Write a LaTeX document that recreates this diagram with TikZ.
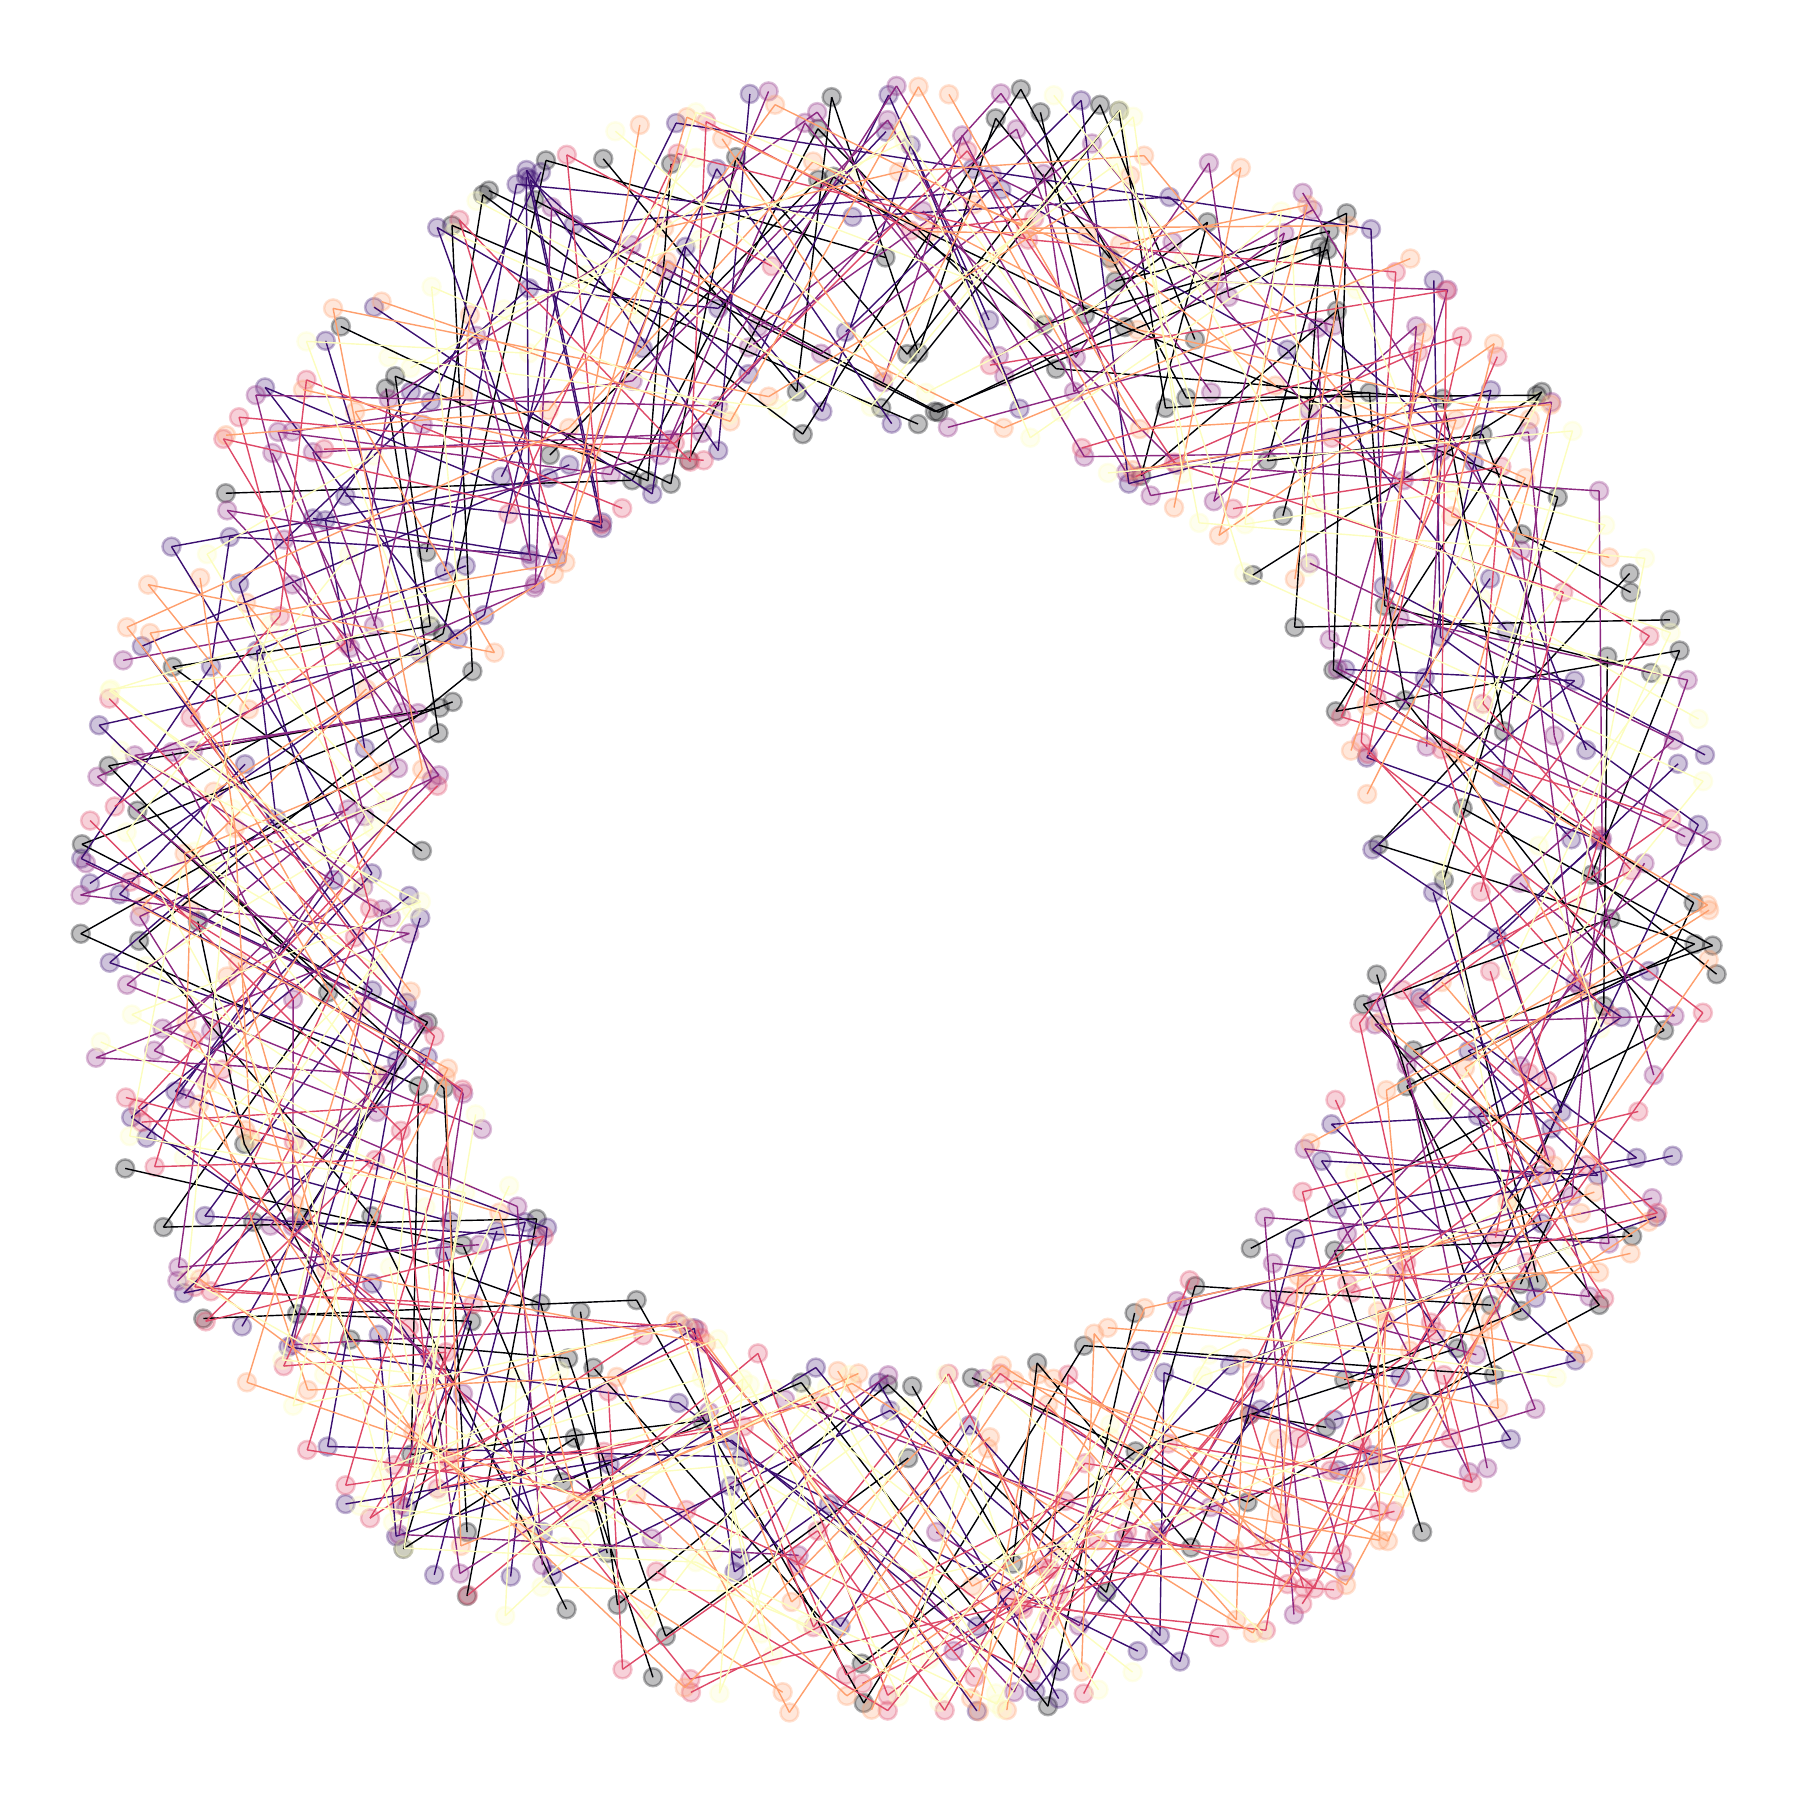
\documentclass[tikz,border=0pt]{standalone}
\definecolor{mA}{HTML}{000004}
\definecolor{mB}{HTML}{3B0F70}
\definecolor{mC}{HTML}{8C2981}
\definecolor{mD}{HTML}{DE4968}
\definecolor{mE}{HTML}{FE9F6D}
\definecolor{mF}{HTML}{FCFDBF}
\tikzset{
  vtx/.style={circle,inner sep=0pt,minimum size=0.18cm,fill=#1,fill opacity=0.25,draw=#1,draw opacity=0.3,line width=0.025cm},
  lnk/.style={draw=#1,line width=0.4pt},
}
\begin{document}
\begin{tikzpicture}
\useasboundingbox (0,0) rectangle (18,18);
\pgfmathsetseed{11}
\foreach \c/\col in {1/mA,2/mB,3/mC,4/mD,5/mE,6/mF}{
  \foreach \p in {1,...,28}{
    \pgfmathsetmacro\a{360*rnd}
    \pgfmathsetmacro\sg{rnd<0.5 ? 1 : -1}
    \pgfmathsetmacro\s{(7+26*rnd)*\sg}
    \foreach \j in {0,...,5}{
      \pgfmathsetmacro\ang{\a+\j*\s+6*(rnd-0.5)}
      \pgfmathsetmacro\rr{rnd}
      \pgfmathsetmacro\rad{isodd(\j) ? 4.75+2.6*\rr*\rr : 8.2-1.5*\rr*\rr}
      \node[vtx=\col] (v\c-\p-\j) at ({9+\rad*cos(\ang)},{9+\rad*sin(\ang)}) {};
    }
  }
}
\foreach \c/\col in {1/mA,2/mB,3/mC,4/mD,5/mE,6/mF}{
  \foreach \p in {1,...,28}{
    \foreach \j [evaluate=\j as \k using int(\j+1)] in {0,...,4}{
      \draw[lnk=\col] (v\c-\p-\j.center) -- (v\c-\p-\k.center);
    }
  }
}
\end{tikzpicture}
\end{document}
